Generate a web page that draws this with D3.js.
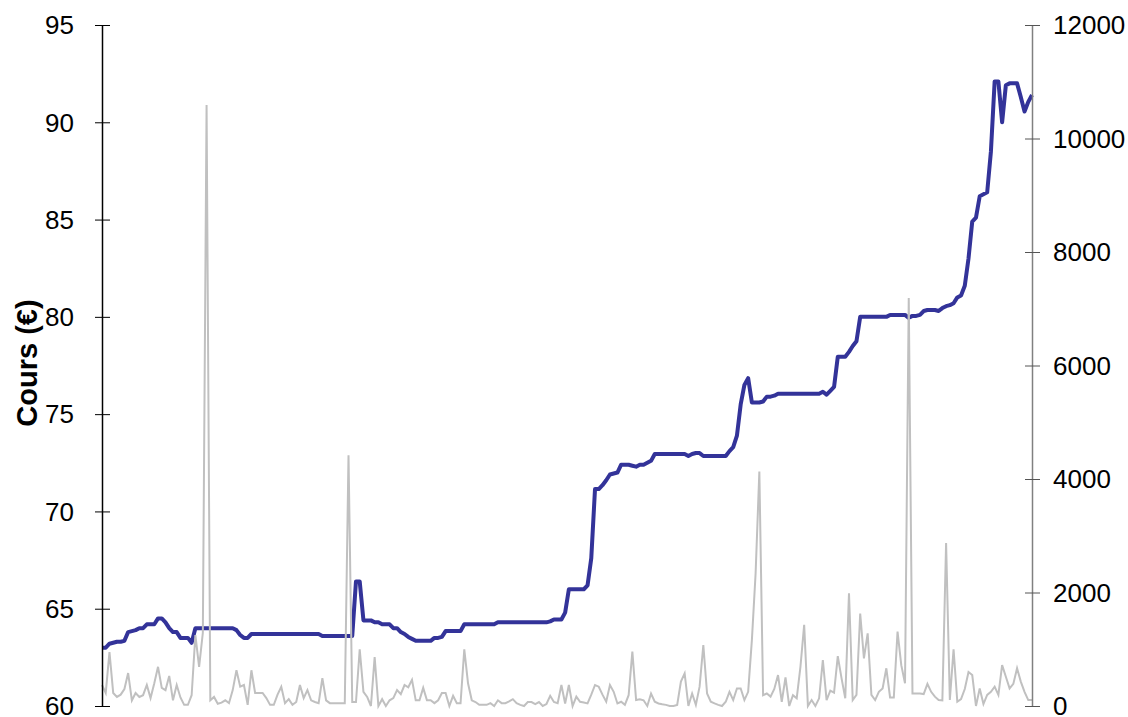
<!DOCTYPE html>
<html>
<head>
<meta charset="utf-8">
<style type="text/css">
body { margin: 0; background: #fff; }

/* price line */
.line {
    fill: none;
    stroke: #333399;
    stroke-width: 4;
    stroke-linejoin: round;
}

/* volume line */
.vol {
    fill: none;
    stroke: #c0c0c0;
    stroke-width: 2;
}

.axis text {
    font-family: "Liberation Sans", Arial, sans-serif;
    font-size: 26px;
    fill: #000;
}
.y.axis path, .y.axis line { stroke: #000; }
.y2.axis path { stroke: #808080; }
.y2.axis line { stroke: #555; }

.label {
    font-family: "Liberation Sans", Arial, sans-serif;
    font-size: 29px;
    font-weight: bold;
}
</style>
<script type="text/javascript" src="https://cdnjs.cloudflare.com/ajax/libs/d3/7.8.5/d3.min.js"></script>
</head>
<body>
<script>
// price (left axis), one value per trading day
var cours = [
  63.0, 63.0, 63.2, 63.25, 63.3, 63.3, 63.35, 63.8, 63.85, 63.9,
  64.0, 64.0, 64.2, 64.2, 64.2, 64.5, 64.5, 64.3, 64.0, 63.8,
  63.8, 63.5, 63.5, 63.5, 63.25, 64.0, 64.0, 64.0, 64.0, 64.0,
  64.0, 64.0, 64.0, 64.0, 64.0, 64.0, 63.9, 63.65, 63.5, 63.5,
  63.7, 63.7, 63.7, 63.7, 63.7, 63.7, 63.7, 63.7, 63.7, 63.7,
  63.7, 63.7, 63.7, 63.7, 63.7, 63.7, 63.7, 63.7, 63.7, 63.6,
  63.6, 63.6, 63.6, 63.6, 63.6, 63.6, 63.6, 63.6, 66.4, 66.4,
  64.4, 64.4, 64.4, 64.3, 64.3, 64.2, 64.2, 64.2, 64.0, 64.0,
  63.8, 63.7, 63.55, 63.45, 63.35, 63.35, 63.35, 63.35, 63.35, 63.5,
  63.5, 63.55, 63.85, 63.85, 63.85, 63.85, 63.85, 64.2, 64.2, 64.2,
  64.2, 64.2, 64.2, 64.2, 64.2, 64.2, 64.3, 64.3, 64.3, 64.3,
  64.3, 64.3, 64.3, 64.3, 64.3, 64.3, 64.3, 64.3, 64.3, 64.3,
  64.35, 64.45, 64.45, 64.45, 64.8, 66.0, 66.0, 66.0, 66.0, 66.0,
  66.2, 67.6, 71.15, 71.15, 71.35, 71.6, 71.9, 71.95, 72.0, 72.4,
  72.4, 72.4, 72.35, 72.3, 72.4, 72.4, 72.5, 72.6, 72.95, 72.95,
  72.95, 72.95, 72.95, 72.95, 72.95, 72.95, 72.95, 72.85, 72.95, 73.0,
  73.0, 72.85, 72.85, 72.85, 72.85, 72.85, 72.85, 72.85, 73.1, 73.3,
  73.9, 75.5, 76.5, 76.85, 75.6, 75.6, 75.6, 75.65, 75.9, 75.9,
  75.95, 76.05, 76.05, 76.05, 76.05, 76.05, 76.05, 76.05, 76.05, 76.05,
  76.05, 76.05, 76.05, 76.15, 76.0, 76.2, 76.4, 77.95, 77.95, 77.95,
  78.2, 78.5, 78.75, 80.0, 80.0, 80.0, 80.0, 80.0, 80.0, 80.0,
  80.0, 80.1, 80.1, 80.1, 80.1, 80.1, 79.95, 80.05, 80.05, 80.1,
  80.3, 80.35, 80.35, 80.35, 80.3, 80.45, 80.55, 80.6, 80.7, 81.0,
  81.1, 81.6, 83.0, 84.9, 85.1, 86.2, 86.3, 86.4, 88.5, 92.1,
  92.1, 90.0, 91.9, 92.0, 92.0, 92.0, 91.3, 90.55, 91.05, 91.4
];

// traded volume (right axis)
var volume = [
  370, 230, 950, 230, 160, 200, 300, 580, 100, 230,
  160, 190, 370, 140, 400, 690, 320, 280, 530, 100,
  370, 150, 20, 20, 190, 1250, 690, 1290, 10590, 100,
  160, 40, 60, 100, 50, 280, 630, 340, 370, 20,
  630, 230, 230, 230, 140, 20, 20, 200, 340, 50,
  120, 20, 70, 370, 140, 280, 100, 70, 50, 490,
  100, 50, 50, 50, 50, 50, 4420, 70, 70, 1000,
  250, 160, 0, 860, 0, 120, 0, 100, 140, 280,
  210, 370, 330, 460, 100, 100, 320, 100, 100, 50,
  100, 230, 230, 0, 180, 50, 50, 1000, 400, 100,
  70, 20, 20, 20, 50, 0, 100, 50, 50, 80,
  120, 50, 20, 0, 70, 70, 35, 70, 0, 35,
  180, 70, 50, 370, 45, 370, 0, 165, 75, 60,
  45, 200, 370, 340, 200, 75, 370, 250, 45, 75,
  20, 190, 960, 105, 120, 100, 0, 220, 75, 45,
  30, 20, 0, 0, 20, 430, 575, 0, 220, 20,
  340, 1075, 220, 75, 45, 20, 0, 75, 250, 105,
  310, 310, 105, 250, 1160, 2340, 4130, 190, 220, 165,
  300, 545, 75, 505, 0, 190, 135, 690, 1430, 0,
  105, 0, 135, 810, 105, 270, 235, 880, 490, 135,
  1985, 105, 195, 1630, 840, 1280, 195, 105, 250, 310,
  665, 150, 150, 1310, 720, 400, 7190, 220, 220, 220,
  210, 390, 250, 165, 105, 100, 2870, 105, 1000, 75,
  120, 300, 600, 545, 0, 310, 35, 195, 250, 340,
  195, 720, 515, 310, 390, 665, 430, 250, 105, 105
];

var coursTicks = [60, 65, 70, 75, 80, 85, 90, 95];
var volumeTicks = [0, 2000, 4000, 6000, 8000, 10000, 12000];
var yLabel = "Cours (\u20ac)";

var margin = {top: 25, right: 96, bottom: 11, left: 102}
  , width = 1128 - margin.left - margin.right
  , height = 717 - margin.top - margin.bottom;

var x = d3.scaleLinear()
    .domain([0, cours.length - 1])
    .range([0, width]);

var y = d3.scaleLinear()
    .domain([60, 95])
    .range([height, 0]);

var y2 = d3.scaleLinear()
    .domain([0, 12000])
    .range([height, 0]);

var svg = d3.select("body").append("svg")
    .attr("width", width + margin.left + margin.right)
    .attr("height", height + margin.top + margin.bottom)
  .append("g")
    .attr("transform", "translate(" + margin.left + "," + margin.top + ")");

// price line first, volume drawn over it
svg.append("path")
    .datum(cours)
    .attr("class", "line")
    .attr("d", d3.line()
        .x(function(d, i) { return x(i); })
        .y(function(d) { return y(d); }));

svg.append("path")
    .datum(volume)
    .attr("class", "vol")
    .attr("d", d3.line()
        .x(function(d, i) { return x(i); })
        .y(function(d) { return y2(d); }));

// left axis, ticks crossing the line
var gy = svg.append("g")
    .attr("class", "y axis")
    .call(d3.axisLeft(y).tickValues(coursTicks).tickSize(7).tickSizeOuter(0).tickPadding(21));
gy.selectAll(".tick line").attr("x2", 8).attr("x1", -7);

// right axis
var gy2 = svg.append("g")
    .attr("class", "y2 axis")
    .attr("transform", "translate(" + width + ",0)")
    .call(d3.axisRight(y2).tickValues(volumeTicks).tickFormat(d3.format("d"))
        .tickSize(8).tickSizeOuter(0).tickPadding(13));
gy2.selectAll(".tick line").attr("x1", -7).attr("x2", 8);

svg.selectAll(".axis .domain").attr("stroke-width", 1.5);
svg.selectAll(".axis text").attr("dy", "0.34em");

svg.append("text")
    .attr("class", "label")
    .attr("transform", "translate(" + (37 - margin.left) + "," + (363 - margin.top) + ") rotate(-90)")
    .attr("text-anchor", "middle")
    .text(yLabel);
</script>
</body>
</html>
